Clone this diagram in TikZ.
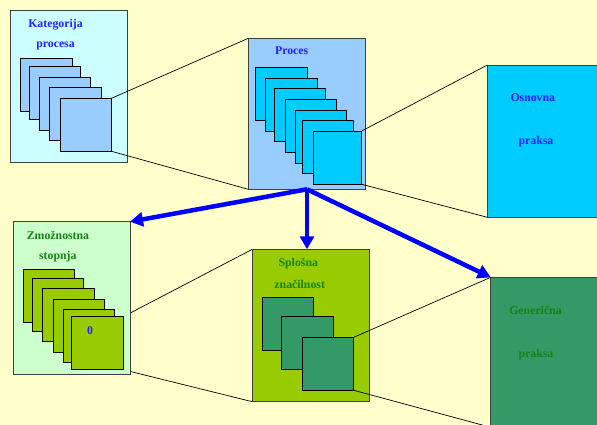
\documentclass[tikz,border=0pt]{standalone}
\usepackage{fontspec}
\setmainfont{Liberation Serif}
\usetikzlibrary{arrows.meta}
\pgfdeclarelayer{back}
\pgfsetlayers{back,main}

\definecolor{paper}{RGB}{255,255,204}
\definecolor{iceblue}{RGB}{204,255,255}
\definecolor{skyblue}{RGB}{153,204,255}
\definecolor{brightcyan}{RGB}{0,204,255}
\definecolor{mintgreen}{RGB}{204,255,204}
\definecolor{limegreen}{RGB}{153,204,0}
\definecolor{seagreen}{RGB}{51,153,102}
\definecolor{textblue}{RGB}{34,34,255}
\definecolor{textgreen}{RGB}{20,130,20}
\definecolor{frame}{RGB}{64,64,64}

\tikzset{
  panel/.style={draw=frame, line width=0.9pt, inner sep=0pt, outer sep=0pt, anchor=north west},
  card/.style={draw=black, line width=0.9pt, inner sep=0pt, outer sep=0pt, anchor=north west,
               minimum width=51.5pt, minimum height=53pt},
  label/.style={font=\bfseries\fontsize{11.8}{14}\selectfont, inner sep=0pt, anchor=base},
  link/.style={draw=black, line width=0.7pt},
  flow/.style={draw=blue, line width=4.5pt, -{Triangle[length=13pt,width=14pt]}}
}

\begin{document}
\begin{tikzpicture}[x=1pt,y=-1pt]
\useasboundingbox (0,0) rectangle (597,425);
\clip (0,0) rectangle (597,425);
\begin{pgfonlayer}{back}
  \fill[paper] (0,0) rectangle (597,425);
\end{pgfonlayer}

% Process category with its stack of processes
\node[panel, fill=iceblue, minimum width=117pt, minimum height=152pt] (kat) at (10,10) {};
\node[label, text=textblue] (katA) at (55.5,27.5) {Kategorija};
\node[label, text=textblue] (katB) at (55.5,47.2) {procesa};
\foreach \i/\x/\y in {1/20.7/58.3, 2/29.3/66.7, 3/39.3/77.3, 4/49.7/87.7, 5/60/98.3}
  \node[card, fill=skyblue] (k\i) at (\x,\y) {};

% Process with its stack of base practices
\node[panel, fill=skyblue, minimum width=117.4pt, minimum height=151pt] (proc) at (248.3,38.3) {};
\node[label, text=textblue] (procA) at (291.7,54.3) {Proces};
\foreach \i/\x/\y in {1/255.7/67.7, 2/265.7/78.3, 3/274.3/88.3, 4/285/99.3, 5/295/110, 6/302.3/120.7}
  \node[card, fill=brightcyan] (p\i) at (\x,\y) {};
\node[card, fill=brightcyan, minimum width=48.4pt, minimum height=53.3pt] (p7) at (313.3,131) {};
\draw[link] (k5.north east) -- (proc.north west);
\draw[link] (k5.south east) -- (proc.south west);

% Base practice
\node[panel, fill=brightcyan, minimum width=115pt, minimum height=152.3pt] (osn) at (487.3,65) {};
\node[label, text=textblue] (osnA) at (532.8,101.5) {Osnovna};
\node[label, text=textblue] (osnB) at (536,145) {praksa};
\draw[link] (p7.north east) -- (osn.north west);
\draw[link] (p7.south east) -- (osn.south west);

% Capability level with its stack of levels
\node[panel, fill=mintgreen, minimum width=116.7pt, minimum height=152.3pt] (zmo) at (13.3,221.7) {};
\node[label, text=textgreen] (zmoA) at (58,239.3) {Zmožnostna};
\node[label, text=textgreen] (zmoB) at (57.8,259) {stopnja};
\foreach \i/\x/\y in {1/23.3/269.3, 2/32.3/278.3, 3/42.7/288.3, 4/53.3/299.3, 5/63.3/309.3, 6/71.7/316.7}
  \node[card, fill=limegreen] (z\i) at (\x,\y) {};
\node[label, text=textblue] (zero) at (90,334) {0};

% Generic attribute with its stack of attributes
\node[panel, fill=limegreen, minimum width=116.7pt, minimum height=152.4pt] (spl) at (252.3,249.3) {};
\node[label, text=textgreen] (splA) at (298.3,266) {Splošna};
\node[label, text=textgreen] (splB) at (299.7,288) {značilnost};
\foreach \i/\x/\y in {1/262.3/297.3, 2/281.7/316.7, 3/302.3/337.3}
  \node[card, fill=seagreen] (s\i) at (\x,\y) {};
\begin{pgfonlayer}{back}
  \draw[link] (z6.north east) -- (spl.north west);
  \draw[link] (z6.south east) -- (spl.south west);
\end{pgfonlayer}

% Generic practice
\node[panel, fill=seagreen, minimum width=115pt, minimum height=150pt] (gen) at (490.7,277.3) {};
\node[label, text=textgreen] (genA) at (535.5,314) {Generična};
\node[label, text=textgreen] (genB) at (536,357) {praksa};
\draw[link] (s3.north east) -- (gen.north west);
\draw[link] (s3.south east) -- (gen.south west);

% Flow from the process to the three dimensions
\draw[flow] (proc.south) -- (zmo.north east);
\draw[flow] (proc.south) -- (proc.south |- spl.north);
\draw[flow] (proc.south) -- (gen.north west);
\end{tikzpicture}
\end{document}
